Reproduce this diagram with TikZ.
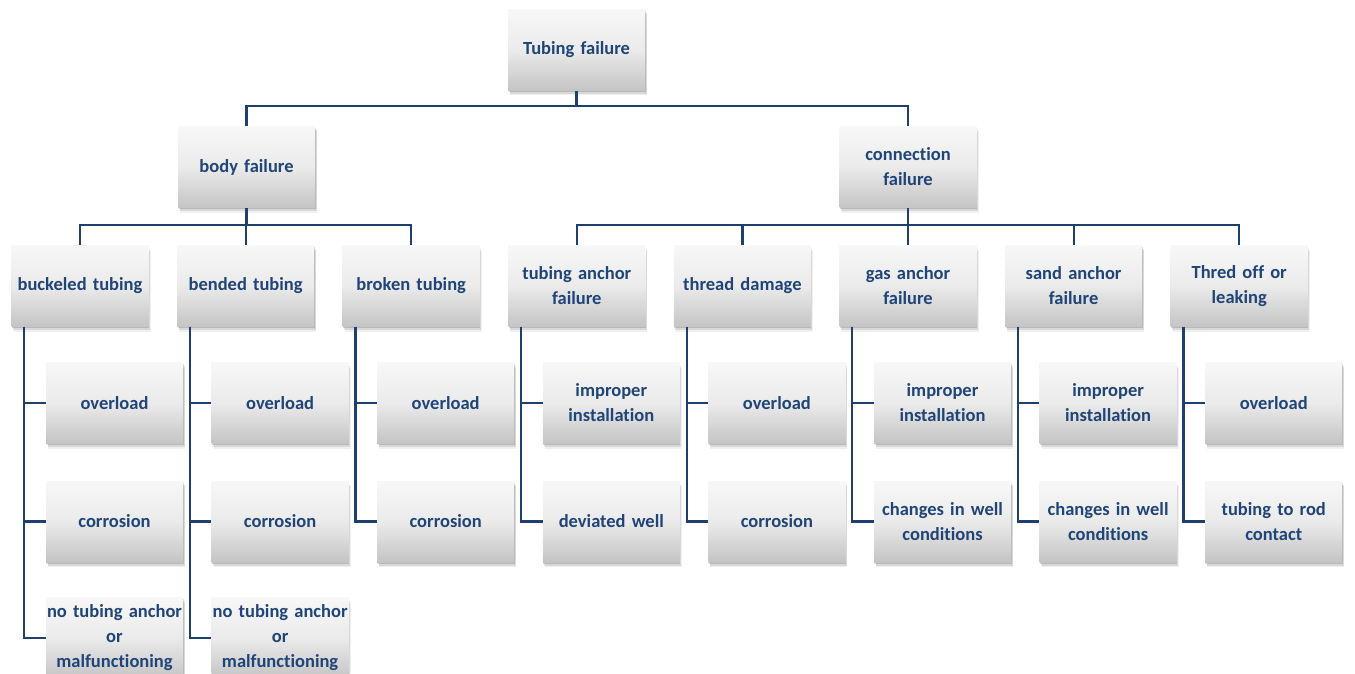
\documentclass[tikz,border=0pt]{standalone}
\usepackage{fontspec}
\setmainfont[Ligatures=NoCommon]{Carlito}
\usetikzlibrary{shadows}
\definecolor{txt}{HTML}{1F4478}
\definecolor{ln}{HTML}{1F3F6E}
\tikzset{
  box/.style={minimum width=137pt, minimum height=81pt, inner sep=0pt,
    text width=137pt, align=center, font=\bfseries\fontsize{18.5}{25}\selectfont,
    text=txt, top color=white!97!black, bottom color=black!23, middle color=white!92!black,
    general shadow={shadow xshift=2pt, shadow yshift=-5pt, fill=black, opacity=0.06},
    general shadow={shadow xshift=1.5pt, shadow yshift=-3.5pt, fill=black, opacity=0.10},
    general shadow={shadow xshift=0.5pt, shadow yshift=-1.5pt, fill=black, opacity=0.15}},
  conn/.style={draw=ln, line width=2.2pt}
}
\newcommand{\wide}[1]{\makebox[0pt][c]{#1}}
\begin{document}
\begin{tikzpicture}[x=1pt,y=-1pt]
\useasboundingbox (0,0) rectangle (1355,674);
% root and level 1
\node[box] (root) at (576.5,50) {Tubing failure};
\node[box] (body) at (246.5,167) {body failure};
\node[box] (conn) at (908,167) {connection\\failure};
% level 2
\node[box] (p1) at (80,286) {buckeled tubing};
\node[box] (p2) at (245.6,286) {bended tubing};
\node[box] (p3) at (411.2,286) {broken tubing};
\node[box] (p4) at (576.8,286) {tubing anchor\\failure};
\node[box] (p5) at (742.4,286) {thread damage};
\node[box] (p6) at (908,286) {gas anchor\\failure};
\node[box] (p7) at (1073.6,286) {sand anchor\\failure};
\node[box] (p8) at (1239.2,286) {Thred off or\\leaking};
% level 3
\node[box] (c11) at (114.5,403) {overload};
\node[box] (c12) at (114.5,521.5) {corrosion};
\node[box] (c13) at (114.5,638) {\wide{no tubing anchor}\\or\\\wide{malfunctioning}};
\node[box] (c21) at (280.1,403) {overload};
\node[box] (c22) at (280.1,521.5) {corrosion};
\node[box] (c23) at (280.1,638) {\wide{no tubing anchor}\\or\\\wide{malfunctioning}};
\node[box] (c31) at (445.7,403) {overload};
\node[box] (c32) at (445.7,521.5) {corrosion};
\node[box] (c41) at (611.3,403) {improper\\installation};
\node[box] (c42) at (611.3,521.5) {deviated well};
\node[box] (c51) at (776.9,403) {overload};
\node[box] (c52) at (776.9,521.5) {corrosion};
\node[box] (c61) at (942.5,403) {improper\\installation};
\node[box] (c62) at (942.5,521.5) {\wide{changes in well}\\conditions};
\node[box] (c71) at (1108.1,403) {improper\\installation};
\node[box] (c72) at (1108.1,521.5) {\wide{changes in well}\\conditions};
\node[box] (c81) at (1273.7,403) {overload};
\node[box] (c82) at (1273.7,521.5) {tubing to rod\\contact};
% connectors level 0-1
\coordinate (j0) at (576.5,106);
\draw[conn] (root.south) -- (j0);
\draw[conn] (j0) -| (body.north);
\draw[conn] (j0) -| (conn.north);
% level 1-2
\coordinate (j1) at (246.5,225);
\coordinate (j2) at (908,225);
\draw[conn] (body.south) -- (j1);
\foreach \p in {p1,p2,p3} \draw[conn] (j1) -| (\p.north);
\draw[conn] (conn.south) -- (j2);
\foreach \p in {p4,p5,p6,p7,p8} \draw[conn] (j2) -| (\p.north);
% level 2-3
\foreach \p/\cs in {1/{1,2,3},2/{1,2,3},3/{1,2},4/{1,2},5/{1,2},6/{1,2},7/{1,2},8/{1,2}}{
  \foreach \c in \cs {
    \draw[conn] ([xshift=13pt]p\p.south west) |- (c\p\c.west);
  }
}
\end{tikzpicture}
\end{document}
